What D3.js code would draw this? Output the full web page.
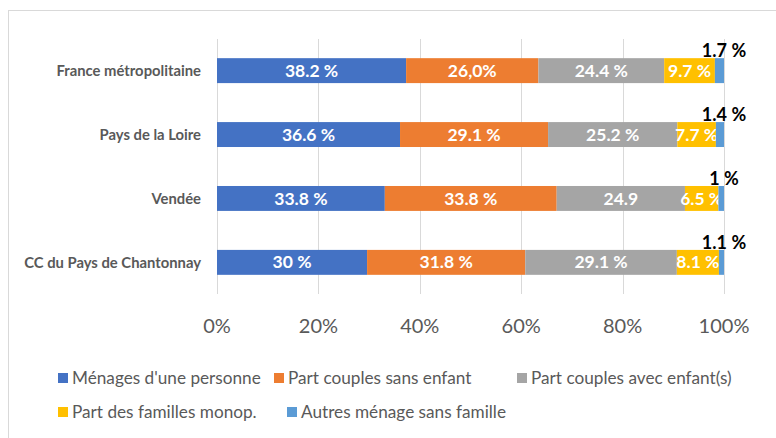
<!DOCTYPE html>
<meta charset="utf-8">
<style>
body {
  margin: 0;
  background: #fff;
}
svg {
  font-family: Lato, "Open Sans", sans-serif;
  display: block;
}
.grid line {
  stroke: #d9d9d9;
  shape-rendering: crispEdges;
}
.cat text {
  font-weight: bold;
  font-size: 14.8px;
  fill: #595959;
}
.tick-label {
  font-size: 20px;
  fill: #595959;
}
.seg-label {
  font-weight: bold;
  font-size: 17.5px;
  fill: #fff;
}
.end-label {
  font-weight: bold;
  font-size: 18px;
  fill: #000;
}
.legend text {
  font-size: 17.2px;
  fill: #595959;
}
</style>
<body>
<div id="chart"></div>
<script src="https://cdn.jsdelivr.net/npm/d3@7"></script>
<script>

var categories = ["France métropolitaine", "Pays de la Loire", "Vendée", "CC du Pays de Chantonnay"];

var series = ["Ménages d'une personne", "Part couples sans enfant", "Part couples avec enfant(s)",
              "Part des familles monop.", "Autres ménage sans famille"];

var colors = ["#4472c4", "#ed7d31", "#a5a5a5", "#ffc000", "#5b9bd5"];

// shares as drawn (bars), one array per series, in category order
var menagesPersonne   = [37.3, 36.1, 33.1, 29.6];
var couplesSansEnfant = [26.1, 29.2, 33.9, 31.2];
var couplesAvecEnfant = [24.8, 25.5, 25.3, 29.9];
var famillesMonop     = [10.0, 7.6, 6.6, 8.3];
var autresMenages     = [1.8, 1.6, 1.1, 1.0];

// labels as typed on the chart
var labelsPersonne   = ["38.2 %", "36.6 %", "33.8 %", "30 %"];
var labelsSansEnfant = ["26,0%", "29.1 %", "33.8 %", "31.8 %"];
var labelsAvecEnfant = ["24.4 %", "25.2 %", "24.9", "29.1 %"];
var labelsMonop      = ["9.7 %", "7.7 %", "6.5 %", "8.1 %"];
var labelsAutres     = ["1.7 %", "1.4 %", "1 %", "1.1 %"];

var ticks = [0, 0.2, 0.4, 0.6, 0.8, 1];

var values = [menagesPersonne, couplesSansEnfant, couplesAvecEnfant, famillesMonop, autresMenages];
var labels = [labelsPersonne, labelsSansEnfant, labelsAvecEnfant, labelsMonop, labelsAutres];

var width = 776,
    height = 438;

var data = categories.map(function(c, i) {
  var row = {cat: c, i: i};
  series.forEach(function(s, k) { row[s] = values[k][i]; });
  return row;
});

var stack = d3.stack()
    .keys(series)
    .offset(d3.stackOffsetExpand);
var layers = stack(data);

var x = d3.scaleLinear()
    .domain([0, 1])
    .range([217, 724]);

var y = d3.scaleBand()
    .domain(categories)
    .range([39, 294])
    .paddingInner(0.61)
    .paddingOuter(0.3);

var svg = d3.select("#chart").append("svg")
    .attr("width", width)
    .attr("height", height);

// chart frame
svg.append("rect")
    .attr("x", 8.5)
    .attr("y", 10.5)
    .attr("width", 900)
    .attr("height", 600)
    .attr("fill", "none")
    .attr("stroke", "#d9d9d9");

// vertical gridlines
svg.append("g")
    .attr("class", "grid")
  .selectAll("line")
    .data(ticks)
  .enter().append("line")
    .attr("x1", function(d) { return Math.round(x(d)) + 0.5; })
    .attr("x2", function(d) { return Math.round(x(d)) + 0.5; })
    .attr("y1", 39)
    .attr("y2", 294);

// tick labels
svg.append("g")
  .selectAll("text")
    .data(ticks)
  .enter().append("text")
    .attr("class", "tick-label")
    .attr("x", function(d) { return x(d); })
    .attr("y", 326)
    .attr("dy", ".35em")
    .attr("text-anchor", "middle")
    .text(d3.format(".0%"));

// category labels
svg.append("g")
    .attr("class", "cat")
  .selectAll("text")
    .data(categories)
  .enter().append("text")
    .attr("x", 201)
    .attr("y", function(d) { return y(d) + y.bandwidth() / 2; })
    .attr("dy", ".35em")
    .attr("text-anchor", "end")
    .text(function(d) { return d; });

// bars
var layer = svg.selectAll(".layer")
    .data(layers)
  .enter().append("g")
    .attr("class", "layer")
    .attr("fill", function(d, k) { return colors[k]; });

layer.selectAll("rect")
    .data(function(d) { return d; })
  .enter().append("rect")
    .attr("x", function(d) { return x(d[0]); })
    .attr("y", function(d) { return y(d.data.cat); })
    .attr("width", function(d) { return x(d[1]) - x(d[0]); })
    .attr("height", y.bandwidth());

// labels inside segments (first four series)
layer.filter(function(d, k) { return k < 4; })
  .selectAll("text")
    .data(function(d) { return d.map(function(p) { return {p: p, k: d.index}; }); })
  .enter().append("text")
    .attr("class", "seg-label")
    .attr("x", function(d) { return (x(d.p[0]) + x(d.p[1])) / 2; })
    .attr("y", function(d) { return y(d.p.data.cat) + y.bandwidth() / 2; })
    .attr("dy", ".35em")
    .attr("text-anchor", "middle")
    .text(function(d) { return labels[d.k][d.p.data.i]; });

// labels of the last series, above the bar end
layer.filter(function(d, k) { return k === 4; })
  .selectAll("text")
    .data(function(d) { return d; })
  .enter().append("text")
    .attr("class", "end-label")
    .attr("x", function(d) { return x(d[1]); })
    .attr("y", function(d) { return y(d.data.cat) - 7; })
    .attr("dy", ".35em")
    .attr("text-anchor", "middle")
    .text(function(d) { return labelsAutres[d.data.i]; });

// legend
var legendPos = [[58, 378], [274, 378], [517, 378], [58, 412], [287, 412]];

var legend = svg.append("g")
    .attr("class", "legend")
  .selectAll("g")
    .data(series)
  .enter().append("g")
    .attr("transform", function(d, k) { return "translate(" + legendPos[k][0] + "," + legendPos[k][1] + ")"; });

legend.append("rect")
    .attr("x", 0)
    .attr("y", -5)
    .attr("width", 10)
    .attr("height", 10)
    .attr("fill", function(d, k) { return colors[k]; });

legend.append("text")
    .attr("x", 14)
    .attr("dy", ".35em")
    .text(function(d) { return d; });

</script>
</body>
